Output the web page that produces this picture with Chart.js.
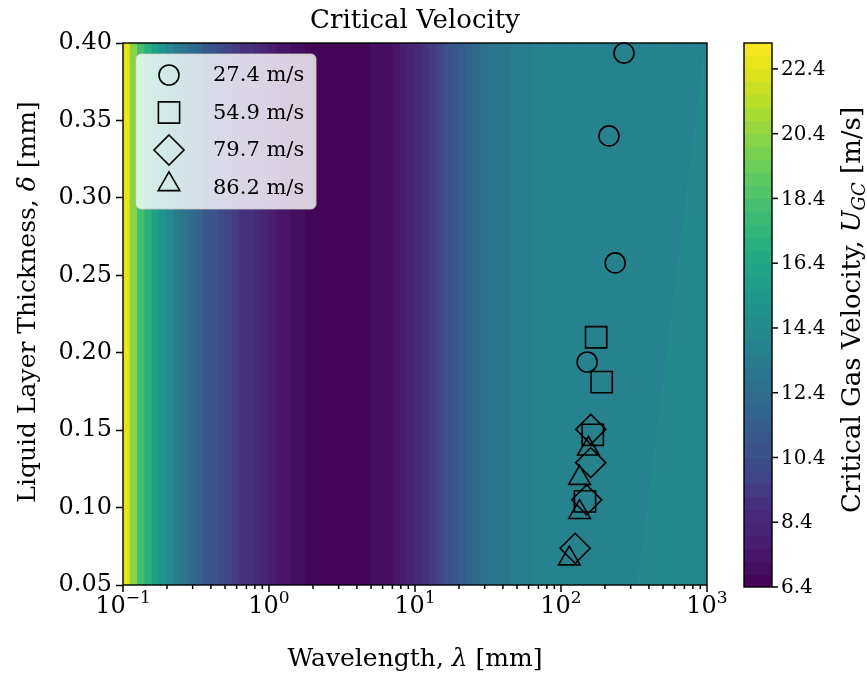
<!DOCTYPE html>
<html>
<head>
<meta charset="utf-8">
<script src="https://cdn.jsdelivr.net/npm/chart.js@4.4.0/dist/chart.umd.min.js"></script>
<style>
  html, body { margin: 0; padding: 0; background: #fff; }
  canvas { display: block; }
</style>
</head>
<body>
<canvas id="chart" width="867" height="673"></canvas>
<script>
// ---- data ----
// wavelength bins [mm], 20 per decade (bin centres of the contour columns)
const wavelengthBins = [
  0.106, 0.119, 0.133, 0.150, 0.168, 0.188, 0.211, 0.237, 0.266, 0.299,
  0.335, 0.376, 0.422, 0.473, 0.531, 0.596, 0.668, 0.750, 0.841, 0.944,
  1.06, 1.19, 1.33, 1.50, 1.68, 1.88, 2.11, 2.37, 2.66, 2.99,
  3.35, 3.76, 4.22, 4.73, 5.31, 5.96, 6.68, 7.50, 8.41, 9.44,
  10.6, 11.9, 13.3, 15.0, 16.8, 18.8, 21.1, 23.7, 26.6, 29.9,
  33.5, 37.6, 42.2, 47.3, 53.1, 59.6, 66.8, 75.0, 84.1, 94.4,
  106, 119, 133, 150, 168, 188, 211, 237, 266, 299,
  335, 376, 422, 473, 531, 596, 668, 750, 841, 944
];
// critical gas velocity in each column [m/s]
const criticalVelocity = [
  22.6, 20.2, 18.3, 16.9, 15.8, 14.9, 14.1, 13.4, 12.8, 12.2,
  11.7, 11.2, 10.7, 10.3, 9.9, 9.5, 9.1, 8.8, 8.5, 8.2,
  7.9, 7.6, 7.35, 7.1, 6.95, 6.8, 6.7, 6.6, 6.5, 6.45,
  6.45, 6.5, 6.6, 6.7, 6.85, 7.0, 7.2, 7.5, 7.8, 8.1,
  8.5, 8.9, 9.4, 9.9, 10.4, 10.9, 11.4, 11.8, 12.2, 12.5,
  12.8, 13.0, 13.2, 13.4, 13.5, 13.5, 13.9, 13.9, 13.9, 13.9,
  13.9, 13.9, 13.9, 13.9, 13.9, 13.9, 13.9, 13.9, 13.9, 13.9,
  13.9, 13.9, 13.9, 13.9, 13.9, 13.9, 13.9, 13.9, 13.9, 13.9
];
// slanted contour edge in the lower right corner, and the level beyond it
const edgeLambda = [332, 968, 1000, 1000];
const edgeDelta = [0.05, 0.40, 0.40, 0.05];
const edgeVelocity = 14.1;

// measured points
const circleLambda = [270, 213, 235, 151];
const circleDelta = [0.3935, 0.340, 0.258, 0.194];
const squareLambda = [174, 190, 165, 146];
const squareDelta = [0.210, 0.181, 0.147, 0.104];
const diamondLambda = [160, 160, 150, 125];
const diamondDelta = [0.1505, 0.129, 0.105, 0.0737];
const triangleLambda = [154, 134, 134, 114];
const triangleDelta = [0.138, 0.119, 0.097, 0.067];

const seriesLabels = ["27.4 m/s", "54.9 m/s", "79.7 m/s", "86.2 m/s"];
const xTickExponents = [-1, 0, 1, 2, 3];
const yTicks = [0.05, 0.10, 0.15, 0.20, 0.25, 0.30, 0.35, 0.40];
const colorbarTicks = [6.4, 8.4, 10.4, 12.4, 14.4, 16.4, 18.4, 20.4, 22.4];
const vMin = 6.4, vMax = 23.2, levelStep = 0.4;

// ---- colours ----
const VIRIDIS = ["#440154","#471365","#482475","#472f7d","#414487","#3b528b","#355f8d",
  "#2f6c8e","#2a788e","#25848e","#21918c","#1e9c89","#22a884","#2fb47c","#44bf70",
  "#5ec962","#7ad151","#9bd93c","#bddf26","#dfe318","#fde725"];

function hexToRgb(h) {
  return [parseInt(h.slice(1, 3), 16), parseInt(h.slice(3, 5), 16), parseInt(h.slice(5, 7), 16)];
}
function viridis(t) {
  t = Math.min(1, Math.max(0, t));
  const s = t * (VIRIDIS.length - 1);
  const i = Math.min(VIRIDIS.length - 2, Math.floor(s));
  const f = s - i;
  const a = hexToRgb(VIRIDIS[i]), b = hexToRgb(VIRIDIS[i + 1]);
  const c = a.map((v, k) => Math.round(v + (b[k] - v) * f));
  return `rgb(${c[0]},${c[1]},${c[2]})`;
}
// contourf style: colour of the band the value falls in
function levelColor(v) {
  const n = Math.round((vMax - vMin) / levelStep);
  let k = Math.floor((v - vMin) / levelStep);
  k = Math.min(n - 1, Math.max(0, k));
  return viridis((k + 0.5) / n);
}

const SERIF = "'DejaVu Serif', serif";
const TICK_SIZE = 24;
const LABEL_SIZE = 25;

function toPoints(xs, ys) {
  return xs.map((x, i) => ({ x: x, y: ys[i] }));
}

function markerPath(ctx, style, x, y, r) {
  ctx.beginPath();
  if (style === "circle") {
    ctx.arc(x, y, r, 0, Math.PI * 2);
  } else if (style === "rect") {
    const s = r * Math.SQRT1_2;
    ctx.rect(x - s, y - s, 2 * s, 2 * s);
  } else if (style === "rectRot") {
    ctx.moveTo(x, y - r); ctx.lineTo(x + r, y); ctx.lineTo(x, y + r); ctx.lineTo(x - r, y);
    ctx.closePath();
  } else {
    const h = r * Math.sin(Math.PI / 3);
    ctx.moveTo(x, y - r); ctx.lineTo(x + h, y + r / 2); ctx.lineTo(x - h, y + r / 2);
    ctx.closePath();
  }
}

// text made of pieces (normal / italic / subscript / superscript)
function drawRich(ctx, parts, x, y, align) {
  let total = 0;
  parts.forEach(p => { ctx.font = p.font; p.w = ctx.measureText(p.t).width; total += p.w; });
  let cx = align === "center" ? x - total / 2 : x;
  parts.forEach(p => {
    ctx.font = p.font;
    ctx.fillText(p.t, cx, y + (p.dy || 0));
    cx += p.w;
  });
}

const markerStyles = ["circle", "rect", "rectRot", "triangle"];
const markerRadius = [10, 15, 15, 12.5];

const decorPlugin = {
  id: "decor",
  afterDraw(chart) {
    const { ctx, chartArea: a } = chart;
    const xs = chart.scales.x;
    ctx.save();
    ctx.fillStyle = "#000";
    ctx.strokeStyle = "#000";

    // frame
    ctx.lineWidth = 1.4;
    ctx.strokeRect(a.left, a.top, a.right - a.left, a.bottom - a.top);

    // log x ticks
    ctx.lineWidth = 1.5;
    xTickExponents.forEach(e => {
      const px = xs.getPixelForValue(Math.pow(10, e));
      ctx.beginPath(); ctx.moveTo(px, a.bottom); ctx.lineTo(px, a.bottom + 7); ctx.stroke();
      if (e < 3) {
        for (let m = 2; m <= 9; m++) {
          const mx = xs.getPixelForValue(m * Math.pow(10, e));
          ctx.beginPath(); ctx.moveTo(mx, a.bottom); ctx.lineTo(mx, a.bottom + 4); ctx.stroke();
        }
      }
      const exp = e < 0 ? "\u2212" + Math.abs(e) : String(e);
      ctx.textBaseline = "alphabetic";
      drawRich(ctx, [
        { t: "10", font: `${TICK_SIZE}px ${SERIF}` },
        { t: exp, font: `${Math.round(TICK_SIZE * 0.72)}px ${SERIF}`, dy: -10 }
      ], px, a.bottom + 28, "center");
    });

    // axis labels and title
    const labelFont = `${LABEL_SIZE}px ${SERIF}`;
    const labelItal = `italic ${LABEL_SIZE}px ${SERIF}`;
    ctx.textBaseline = "alphabetic";
    drawRich(ctx, [
      { t: "Wavelength, ", font: labelFont },
      { t: "\u03bb", font: labelItal },
      { t: " [mm]", font: labelFont }
    ], (a.left + a.right) / 2, 666, "center");

    drawRich(ctx, [{ t: "Critical Velocity", font: `26px ${SERIF}` }], (a.left + a.right) / 2, 28, "center");

    ctx.save();
    ctx.translate(35, 302);
    ctx.rotate(-Math.PI / 2);
    drawRich(ctx, [
      { t: "Liquid Layer Thickness, ", font: labelFont },
      { t: "\u03b4", font: labelItal },
      { t: " [mm]", font: labelFont }
    ], 0, 0, "center");
    ctx.restore();

    // legend
    const lx = a.left + 13, ly = a.top + 11, lw = 180, lh = 155;
    ctx.save();
    ctx.beginPath();
    ctx.roundRect(lx, ly, lw, lh, 5);
    ctx.fillStyle = "rgba(255,255,255,0.8)";
    ctx.fill();
    ctx.strokeStyle = "rgba(204,204,204,0.8)";
    ctx.lineWidth = 1;
    ctx.stroke();
    ctx.restore();
    ctx.lineWidth = 1.6;
    ctx.font = `21px ${SERIF}`;
    ctx.textBaseline = "middle";
    seriesLabels.forEach((lab, i) => {
      const ry = ly + 21 + i * 37.5;
      const r = markerRadius[i];
      const oy = markerStyles[i] === "triangle" ? -r / 4 : 0;
      markerPath(ctx, markerStyles[i], lx + 33, ry + oy, r);
      ctx.stroke();
      ctx.fillText(lab, lx + 77, ry + 1);
    });

    // colorbar
    const cbL = 744, cbR = 772, cbT = a.top, cbB = 587;
    const yOf = v => cbB - (v - vMin) / (vMax - vMin) * (cbB - cbT);
    for (let v = vMin; v < vMax - 1e-6; v += levelStep) {
      ctx.fillStyle = levelColor(v + levelStep / 2);
      const y0 = yOf(v + levelStep), y1 = yOf(v);
      ctx.fillRect(cbL, Math.floor(y0), cbR - cbL, Math.ceil(y1) - Math.floor(y0));
    }
    ctx.fillStyle = "#000";
    ctx.lineWidth = 1.4;
    ctx.strokeRect(cbL, cbT, cbR - cbL, cbB - cbT);
    ctx.font = `20px ${SERIF}`;
    ctx.textBaseline = "middle";
    ctx.lineWidth = 1.5;
    colorbarTicks.forEach(v => {
      const py = yOf(v);
      ctx.beginPath(); ctx.moveTo(cbR, py); ctx.lineTo(cbR + 6, py); ctx.stroke();
      ctx.fillText(v.toFixed(1), cbR + 9, py + 1);
    });
    ctx.save();
    ctx.translate(852, 310);
    ctx.rotate(-Math.PI / 2);
    ctx.textBaseline = "alphabetic";
    drawRich(ctx, [
      { t: "Critical Gas Velocity, ", font: `26px ${SERIF}` },
      { t: "U", font: `italic 26px ${SERIF}` },
      { t: "GC", font: `italic 18px ${SERIF}`, dy: 5 },
      { t: " [m/s]", font: `26px ${SERIF}` }
    ], 0, 8, "center");
    ctx.restore();

    ctx.restore();
  }
};

const markerDataset = (xs, ys, i) => ({
  type: "scatter",
  data: toPoints(xs, ys),
  xAxisID: "x",
  yAxisID: "y",
  pointStyle: markerStyles[i],
  pointRadius: markerRadius[i],
  pointHoverRadius: markerRadius[i],
  pointBorderColor: "#000",
  pointBackgroundColor: "rgba(0,0,0,0)",
  pointBorderWidth: 1.6,
  showLine: false,
  clip: false,
  order: 0
});

const ctx = document.getElementById("chart").getContext("2d");
new Chart(ctx, {
  type: "scatter",
  data: {
    labels: wavelengthBins.map(String),
    datasets: [
      markerDataset(circleLambda, circleDelta, 0),
      markerDataset(squareLambda, squareDelta, 1),
      markerDataset(diamondLambda, diamondDelta, 2),
      markerDataset(triangleLambda, triangleDelta, 3),
      {
        type: "line",
        data: toPoints(edgeLambda, edgeDelta),
        xAxisID: "x",
        yAxisID: "y",
        borderWidth: 0,
        borderColor: "rgba(0,0,0,0)",
        backgroundColor: levelColor(edgeVelocity),
        fill: "shape",
        pointRadius: 0,
        tension: 0,
        order: 2
      },
      {
        type: "bar",
        data: criticalVelocity.map(() => [0.05, 0.40]),
        xAxisID: "xb",
        yAxisID: "y",
        backgroundColor: criticalVelocity.map(levelColor),
        borderWidth: 0,
        grouped: false,
        barThickness: 7.8,
        order: 3
      }
    ]
  },
  options: {
    responsive: false,
    animation: false,
    devicePixelRatio: 1,
    layout: { padding: { left: 0, top: 43, right: 160, bottom: 88 } },
    plugins: { legend: { display: false }, tooltip: { enabled: false } },
    scales: {
      x: { type: "logarithmic", min: 0.1, max: 1000, display: false, offset: false },
      xb: { type: "category", display: false, offset: true },
      y: {
        type: "linear",
        min: 0.05,
        max: 0.40,
        afterBuildTicks: scale => { scale.ticks = yTicks.map(v => ({ value: v })); },
        afterFit: scale => { scale.width = 123; },
        ticks: {
          color: "#000",
          padding: 4,
          font: { family: SERIF, size: TICK_SIZE },
          callback: v => Number(v).toFixed(2)
        },
        grid: { drawOnChartArea: false, color: "#000", tickLength: 7, tickWidth: 1.5 },
        border: { display: false }
      }
    }
  },
  plugins: [decorPlugin]
});
</script>
</body>
</html>
